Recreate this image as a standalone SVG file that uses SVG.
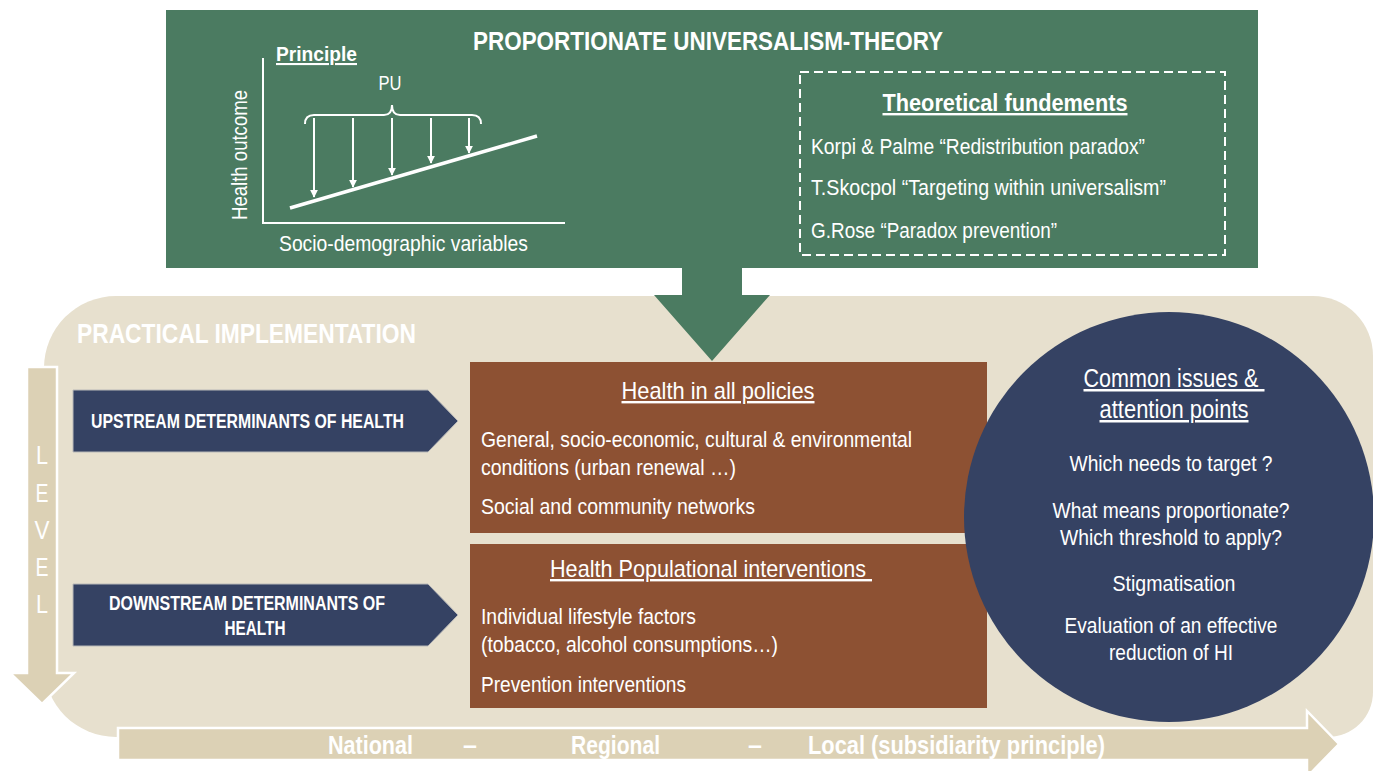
<svg xmlns="http://www.w3.org/2000/svg" width="1373" height="771" viewBox="0 0 1373 771">
<style>
text{font-family:"Liberation Sans Narrow","Liberation Sans",Arial,sans-serif;fill:#fff}
.b{font-weight:bold}
.u{text-decoration:underline}
.t19{font-size:22px}
.t21{font-size:24px}
.mid{text-anchor:middle}
.wl{stroke:#fff;fill:none}
</style>
<defs>
<marker id="ah" viewBox="0 0 10 10" refX="9" refY="5" markerWidth="4" markerHeight="4" orient="auto" markerUnits="strokeWidth">
<path d="M0,0 L10,5 L0,10 z" fill="#fff"/>
</marker>
</defs>
<rect width="1373" height="771" fill="#fff"/>

<g id="practical-bg">
<path d="M116,296 H1313 A60,60 0 0 1 1373,356 V692 A45,45 0 0 1 1328,737 H116 A72,72 0 0 1 44,665 V368 A72,72 0 0 1 116,296 Z" fill="#E7E0CE"/>
<text x="77" y="343" class="b" font-size="28" textLength="339" lengthAdjust="spacingAndGlyphs">PRACTICAL IMPLEMENTATION</text>
</g>

<g id="theory">
<rect x="166" y="10" width="1092" height="258" fill="#4B7B61"/>
<text x="708" y="50" class="b mid" font-size="26" textLength="470" lengthAdjust="spacingAndGlyphs">PROPORTIONATE UNIVERSALISM-THEORY</text>
<text x="276" y="61" class="b u" font-size="21" textLength="81" lengthAdjust="spacingAndGlyphs">Principle</text>
<polyline points="263,58 263,223 565,223" class="wl" stroke-width="2"/>
<line x1="290" y1="208" x2="537" y2="136" class="wl" stroke-width="3.5"/>
<g class="wl" stroke-width="2" marker-end="url(#ah)">
<line x1="314" y1="118" x2="314" y2="197"/>
<line x1="353" y1="118" x2="353" y2="187"/>
<line x1="392" y1="118" x2="392" y2="175"/>
<line x1="431" y1="118" x2="431" y2="163"/>
<line x1="469" y1="118" x2="469" y2="153"/>
</g>
<path d="M305,124 Q305,115 314,115 H384 Q392,115 392,105 Q392,115 400,115 H472 Q481,115 481,124" class="wl" stroke-width="2"/>
<text x="390" y="90" class="mid" font-size="21" textLength="23" lengthAdjust="spacingAndGlyphs">PU</text>
<text transform="translate(247,155) rotate(-90)" class="mid t19" textLength="130" lengthAdjust="spacingAndGlyphs">Health outcome</text>
<text x="279" y="251" class="t19" textLength="249" lengthAdjust="spacingAndGlyphs">Socio-demographic variables</text>
<rect x="800" y="72" width="425" height="183" class="wl" stroke-width="2" stroke-dasharray="9,5"/>
<text x="1005" y="111" class="b u t21 mid" textLength="245" lengthAdjust="spacingAndGlyphs">Theoretical fundements</text>
<text x="811" y="154" class="t19" textLength="334" lengthAdjust="spacingAndGlyphs">Korpi &amp; Palme “Redistribution paradox”</text>
<text x="811" y="195" class="t19" textLength="355" lengthAdjust="spacingAndGlyphs">T.Skocpol “Targeting within universalism”</text>
<text x="811" y="238" class="t19" textLength="246" lengthAdjust="spacingAndGlyphs">G.Rose “Paradox prevention”</text>
</g>

<g id="connectors">
<polygon points="682,266 742,266 742,295 770,295 712,361 654,295 682,295" fill="#4B7B61"/>
<polygon points="27,367 57,367 57,673 74,673 42,704 10,673 27,673" fill="#DCD1B5" stroke="#fff" stroke-width="2.5"/>
<polygon points="118,728 1307,728 1307,711 1339,744 1307,777 1307,760 118,760" fill="#DCD1B5" stroke="#fff" stroke-width="2.5"/>
</g>

<g id="level">
<g font-size="25" class="mid">
<text x="42" y="464" textLength="12" lengthAdjust="spacingAndGlyphs">L</text>
<text x="42" y="502" textLength="13" lengthAdjust="spacingAndGlyphs">E</text>
<text x="42" y="539" textLength="15" lengthAdjust="spacingAndGlyphs">V</text>
<text x="42" y="576" textLength="13" lengthAdjust="spacingAndGlyphs">E</text>
<text x="42" y="613" textLength="12" lengthAdjust="spacingAndGlyphs">L</text>
</g>
</g>

<g id="scale">
<g class="b" font-size="25">
<text x="328" y="754" textLength="85" lengthAdjust="spacingAndGlyphs">National</text>
<text x="470" y="754" class="mid">–</text>
<text x="571" y="754" textLength="89" lengthAdjust="spacingAndGlyphs">Regional</text>
<text x="755" y="754" class="mid">–</text>
<text x="808" y="754" textLength="297" lengthAdjust="spacingAndGlyphs">Local (subsidiarity principle)</text>
</g>
</g>

<g id="upstream">
<polygon points="73,390 428,390 458,421 428,452 73,452" fill="#354263" stroke="#b9b9b9" stroke-width="1"/>
<text x="91" y="428" class="b" font-size="20" textLength="313" lengthAdjust="spacingAndGlyphs">UPSTREAM DETERMINANTS OF HEALTH</text>
</g>

<g id="downstream">
<polygon points="73,584 428,584 458,615 428,646 73,646" fill="#354263" stroke="#b9b9b9" stroke-width="1"/>
<text x="247" y="610" class="b mid" font-size="20" textLength="276" lengthAdjust="spacingAndGlyphs">DOWNSTREAM DETERMINANTS OF</text>
<text x="255" y="635" class="b mid" font-size="20" textLength="61" lengthAdjust="spacingAndGlyphs">HEALTH</text>
</g>

<g id="health-in-all-policies">
<rect x="470" y="362" width="517" height="171" fill="#8D5133"/>
<text x="718" y="399" class="u t21 mid" textLength="193" lengthAdjust="spacingAndGlyphs">Health in all policies</text>
<text x="481" y="447" class="t19" textLength="431" lengthAdjust="spacingAndGlyphs">General, socio-economic, cultural &amp; environmental</text>
<text x="481" y="475" class="t19" textLength="255" lengthAdjust="spacingAndGlyphs">conditions (urban renewal …)</text>
<text x="481" y="514" class="t19" textLength="274" lengthAdjust="spacingAndGlyphs">Social and community networks</text>
</g>

<g id="health-populational-interventions">
<rect x="470" y="544" width="517" height="164" fill="#8D5133"/>
<text x="711" y="577" class="u t21 mid" xml:space="preserve" textLength="322" lengthAdjust="spacingAndGlyphs">Health Populational interventions </text>
<text x="481" y="624" class="t19" textLength="215" lengthAdjust="spacingAndGlyphs">Individual lifestyle factors</text>
<text x="481" y="652" class="t19" textLength="297" lengthAdjust="spacingAndGlyphs">(tobacco, alcohol consumptions…)</text>
<text x="481" y="692" class="t19" textLength="205" lengthAdjust="spacingAndGlyphs">Prevention interventions</text>
</g>

<g id="common-issues">
<circle cx="1169" cy="517" r="205" fill="#354263"/>
<text x="1174" y="387" class="u mid" xml:space="preserve" font-size="25" textLength="181" lengthAdjust="spacingAndGlyphs">Common issues &amp; </text>
<text x="1174" y="418" class="u mid" font-size="25" textLength="149" lengthAdjust="spacingAndGlyphs">attention points</text>
<text x="1171" y="471" class="t19 mid" textLength="203" lengthAdjust="spacingAndGlyphs">Which needs to target ?</text>
<text x="1171" y="518" class="t19 mid" textLength="237" lengthAdjust="spacingAndGlyphs">What means proportionate?</text>
<text x="1171" y="545" class="t19 mid" textLength="222" lengthAdjust="spacingAndGlyphs">Which threshold to apply?</text>
<text x="1174" y="591" class="t19 mid" textLength="123" lengthAdjust="spacingAndGlyphs">Stigmatisation</text>
<text x="1171" y="633" class="t19 mid" textLength="213" lengthAdjust="spacingAndGlyphs">Evaluation of an effective</text>
<text x="1171" y="660" class="t19 mid" textLength="124" lengthAdjust="spacingAndGlyphs">reduction of HI</text>
</g>
</svg>
